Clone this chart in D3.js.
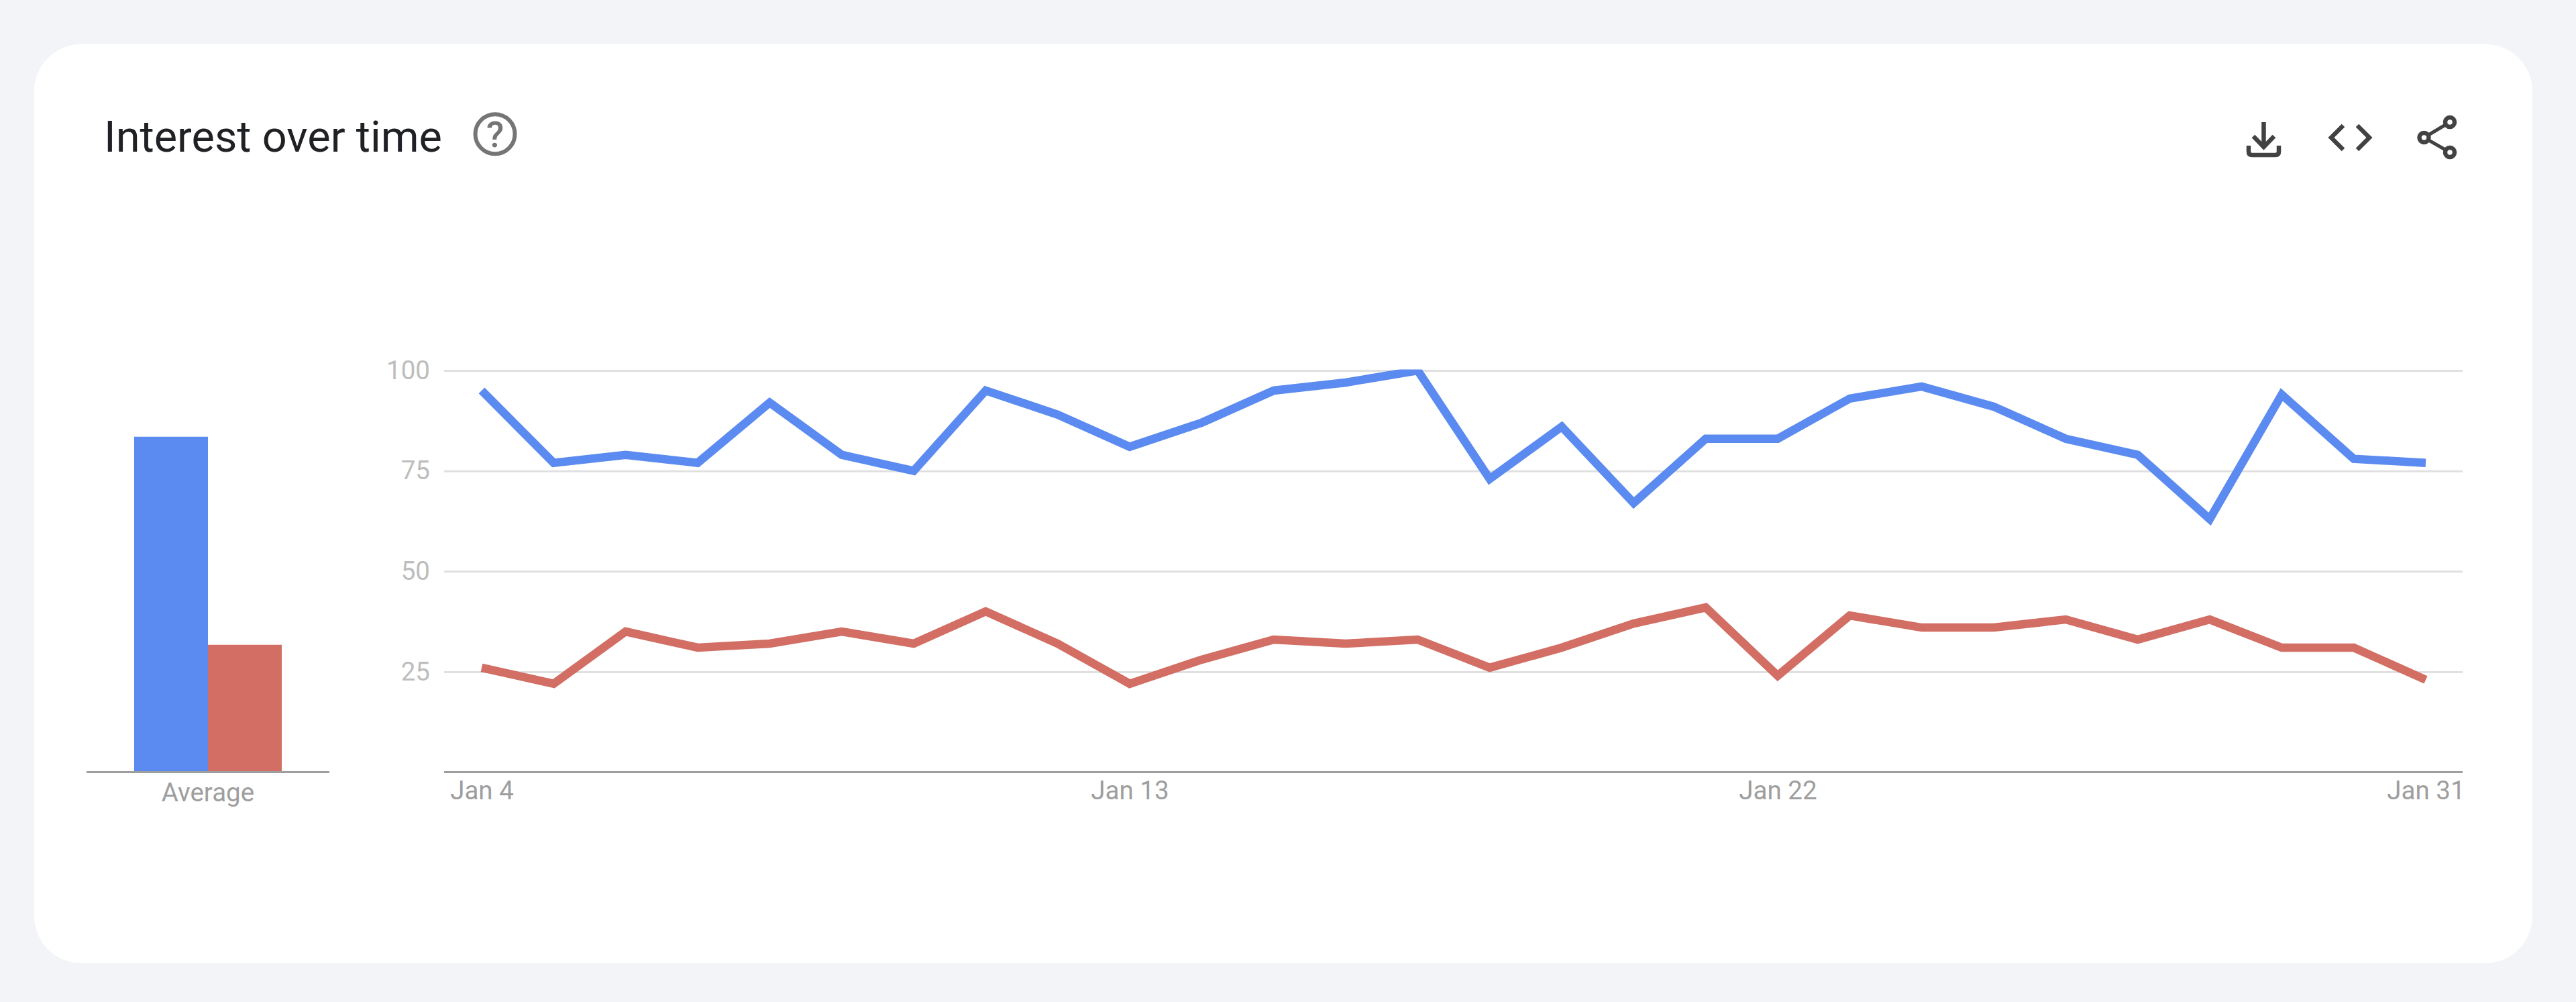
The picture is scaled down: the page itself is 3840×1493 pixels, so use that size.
<!DOCTYPE html>
<html>
<head>
<meta charset="utf-8">
<script src="https://d3js.org/d3.v7.min.js"></script>
<style>
  html, body { margin: 0; background: #f2f4f8; }
  svg { display: block; }
  text { font-family: Roboto, sans-serif; }
</style>
</head>
<body>
<div id="chart"></div>
<script>
// Values
const days = [4, 5, 6, 7, 8, 9, 10, 11, 12, 13, 14, 15, 16, 17, 18, 19, 20, 21, 22, 23, 24, 25, 26, 27, 28, 29, 30, 31];
const blueValues = [95, 77, 79, 77, 92, 79, 75, 95, 89, 81, 87, 95, 97, 100, 73, 86, 67, 83, 83, 93, 96, 91, 83, 79, 63, 94, 78, 77];
const redValues = [26, 22, 35, 31, 32, 35, 32, 40, 32, 22, 28, 33, 32, 33, 26, 31, 37, 41, 24, 39, 36, 36, 38, 33, 38, 31, 31, 23];
const averageValues = [83.5, 31.7];
const seriesColors = ["#5b8bf0", "#d26e64"];
const yTicks = [25, 50, 75, 100];
const xTickDays = [4, 13, 22, 31];
const xTickLabels = ["Jan 4", "Jan 13", "Jan 22", "Jan 31"];

const width = 3840, height = 1493;
const plotLeft = 662, plotRight = 3671;
const plotTop = 552, plotBottom = 1150.5;
const labelSize = 38.5;

const svg = d3.select("#chart").append("svg")
    .attr("width", width)
    .attr("height", height);

// Card
svg.append("rect")
    .attr("x", 51).attr("y", 66)
    .attr("width", 3724).attr("height", 1369)
    .attr("rx", 70).attr("ry", 70)
    .attr("fill", "#ffffff");

// Header
svg.append("text")
    .attr("x", 155).attr("y", 226)
    .attr("font-size", 64)
    .attr("fill", "#202124")
    .attr("textLength", 504)
    .attr("lengthAdjust", "spacingAndGlyphs")
    .text("Interest over time");

const help = svg.append("g").attr("transform", "translate(738,199.7)");
help.append("circle").attr("r", 29.5).attr("fill", "none").attr("stroke", "#757575").attr("stroke-width", 6);
help.append("text").attr("y", 19.5).attr("text-anchor", "middle")
    .attr("font-size", 54).attr("font-weight", 500).attr("fill", "#757575").text("?");

const icons = svg.append("g")
    .attr("fill", "none")
    .attr("stroke", "#424242")
    .attr("stroke-width", 6.5);
icons.append("path").attr("d", "M3374.5,182V218M3359,203L3374.5,219L3390,203");
icons.append("path").attr("d", "M3352,217V226Q3352,231 3357,231H3392Q3397,231 3397,226V217");
icons.append("path").attr("d", "M3493,187L3475,205L3493,223M3514,187L3532,205L3514,223");
icons.append("path").attr("stroke-width", 5).attr("d", "M3652,182L3613.5,205L3652,227");
[[3652, 182], [3613.5, 205], [3652, 227]].forEach(c => {
    icons.append("circle").attr("cx", c[0]).attr("cy", c[1]).attr("r", 7).attr("fill", "#ffffff");
});

// Scales
const y = d3.scaleLinear().domain([0, 100]).range([plotBottom, plotTop]);
const x = d3.scaleLinear().domain([4, 31]).range([718, 3616]);
const xBar = d3.scaleBand().domain(d3.range(averageValues.length)).range([200, 420]);

// Grid and y labels
const yAxis = svg.append("g")
    .attr("transform", `translate(${plotLeft},0)`)
    .call(d3.axisLeft(y).tickValues(yTicks).tickSize(-(plotRight - plotLeft)).tickPadding(21));
yAxis.select(".domain").remove();
yAxis.selectAll("line").attr("stroke", "#e0e0e0").attr("stroke-width", 3);
yAxis.selectAll("text").attr("font-size", labelSize).attr("fill", "#bdbdbd");

// Baselines
const xAxis = svg.append("g")
    .attr("transform", `translate(0,${plotBottom})`)
    .call(d3.axisBottom(x).tickValues(xTickDays).tickFormat((d, i) => xTickLabels[i]).tickSize(0).tickPadding(13));
xAxis.select(".domain").remove();
xAxis.selectAll("text").attr("font-size", labelSize).attr("fill", "#9e9e9e");

svg.append("line")
    .attr("x1", plotLeft).attr("x2", plotRight)
    .attr("y1", plotBottom).attr("y2", plotBottom)
    .attr("stroke", "#9e9e9e").attr("stroke-width", 3);

// Average bars
svg.selectAll(".bar")
    .data(averageValues)
    .enter()
    .append("rect")
    .attr("class", "bar")
    .attr("x", (d, i) => xBar(i))
    .attr("y", d => y(d))
    .attr("width", xBar.bandwidth())
    .attr("height", d => plotBottom - y(d))
    .attr("fill", (d, i) => seriesColors[i]);

svg.append("line")
    .attr("x1", 129).attr("x2", 491)
    .attr("y1", plotBottom).attr("y2", plotBottom)
    .attr("stroke", "#9e9e9e").attr("stroke-width", 3);

svg.append("text")
    .attr("x", 310).attr("y", plotBottom + 43)
    .attr("text-anchor", "middle")
    .attr("font-size", labelSize)
    .attr("fill", "#9e9e9e")
    .text("Average");

// Lines, clipped at the top of the plot
svg.append("clipPath").attr("id", "plot-clip")
    .append("rect")
    .attr("x", plotLeft).attr("y", plotTop - 1.5)
    .attr("width", plotRight - plotLeft).attr("height", plotBottom - plotTop + 1.5);

const line = d3.line()
    .x((d, i) => x(days[i]))
    .y(d => y(d));

svg.append("g").attr("clip-path", "url(#plot-clip)")
    .selectAll(".series")
    .data([blueValues, redValues])
    .enter()
    .append("path")
    .attr("class", "series")
    .attr("d", line)
    .attr("fill", "none")
    .attr("stroke", (d, i) => seriesColors[i])
    .attr("stroke-width", 12.5)
    .attr("stroke-linejoin", "miter");
</script>
</body>
</html>
